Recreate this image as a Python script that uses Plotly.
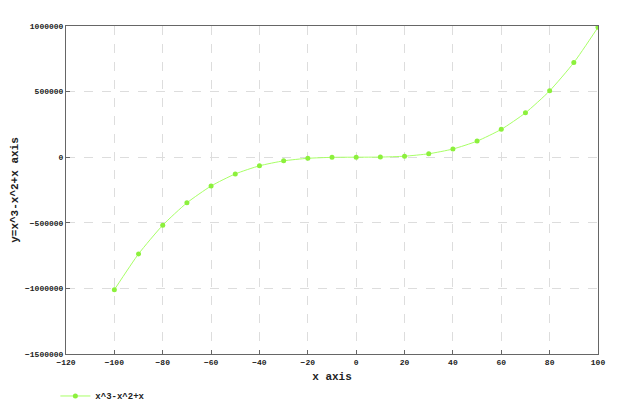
import plotly.graph_objects as go

# data
x_vals = [-100, -90, -80, -70, -60, -50, -40, -30, -20, -10, 0,
          10, 20, 30, 40, 50, 60, 70, 80, 90, 100]
y_vals = [-1010100, -737190, -518480, -347970, -219660, -127550, -65640,
          -27930, -8420, -1110, 0, 910, 7620, 26130, 62440, 122550,
          212460, 338170, 505680, 720990, 990100]
series_name = 'x^3-x^2+x'
x_title = 'x axis'
y_title = 'y=x^3-x^2+x axis'

FONT = 'Liberation Mono, DejaVu Sans Mono, monospace'
GREEN = '#a8ff66'

fig = go.Figure(go.Scatter(
    x=x_vals, y=y_vals, name=series_name, mode='lines+markers',
    line=dict(color=GREEN, width=1, shape='spline', smoothing=0.6),
    marker=dict(color='#8cf03c', size=5),
))

axis_common = dict(
    showgrid=True, gridcolor='#dddddd', griddash='dash', gridwidth=1,
    showline=True, linecolor='#666666', linewidth=1, mirror=True,
    ticks='inside', ticklen=4, tickcolor='#666666',
    zeroline=False, automargin=False,
    tickfont=dict(family=FONT, size=8, color='#222222', weight='bold'),
)

# page body adds 8px offset, margins are set against that
fig.update_layout(
    width=624, height=414,
    paper_bgcolor='white', plot_bgcolor='white',
    margin=dict(l=58, r=34, t=18, b=68),
    font=dict(family=FONT, color='#222222'),
    xaxis=dict(range=[-120, 100], dtick=20,
               title=dict(text='<b>' + x_title + '</b>', font=dict(size=11), standoff=6),
               **axis_common),
    yaxis=dict(range=[-1500000, 1000000], dtick=500000,
               tickformat='d',
               title=dict(text='<b>' + y_title + '</b>', font=dict(size=11), standoff=4),
               **axis_common),
    showlegend=True,
    legend=dict(orientation='h', x=-0.02, xanchor='left', y=-0.128, yanchor='middle',
                font=dict(family=FONT, size=9, color='#222222', weight='bold'),
                bgcolor='rgba(0,0,0,0)'),
)

fig.write_html('out.html')
